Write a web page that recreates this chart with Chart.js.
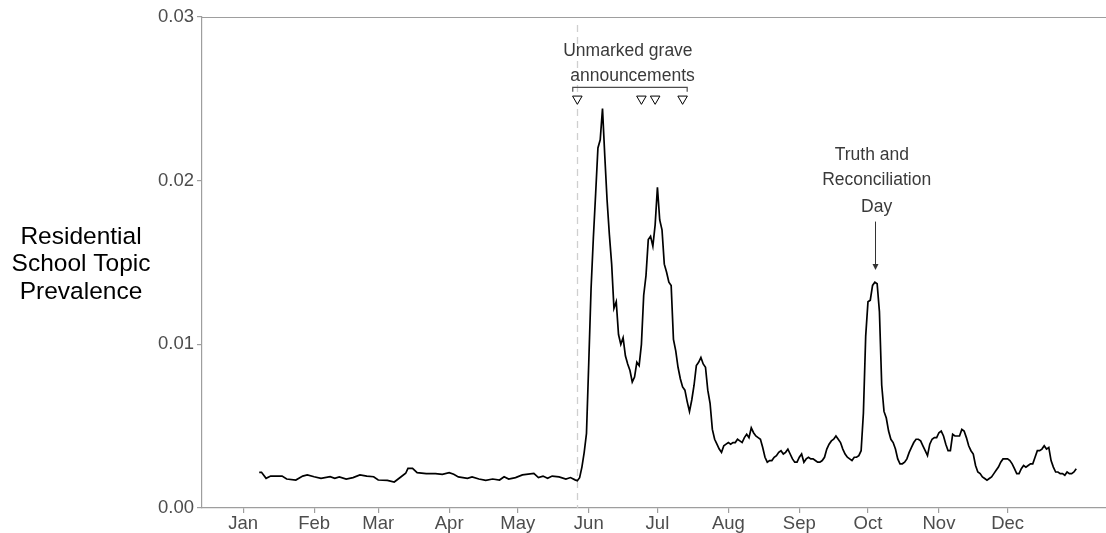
<!DOCTYPE html>
<html>
<head>
<meta charset="utf-8">
<script src="https://cdn.jsdelivr.net/npm/chart.js@4.4.0/dist/chart.umd.min.js"></script>
<style>
  html, body { margin: 0; padding: 0; background: #ffffff; }
  canvas { display: block; }
</style>
</head>
<body>
<canvas id="chart" width="1106" height="533"></canvas>
<script>
// Day of year (0 = 1 January 2021) and the residential-school topic prevalence on that day
const days = [
  7, 8, 10, 12, 17, 19, 23, 26, 28, 31, 34, 38, 40, 42, 45, 48, 51, 54, 57, 59,
  63, 66, 69, 71, 72, 74, 76, 80, 84, 87, 90, 92, 94, 98, 100, 103, 106, 109, 112, 114,
  116, 119, 122, 127, 129, 131, 133, 135, 138, 141, 143, 145,
  146, 147, 148, 149, 150, 151, 152, 153, 154, 155, 156, 157, 158, 159, 160, 161, 162, 163,
  164, 165, 166, 167, 168, 169, 170, 171, 172, 173, 174, 175, 176, 177, 178, 179, 180, 181,
  182, 183, 184, 185, 186, 187, 188, 189, 190, 191, 192, 193, 194, 195, 196, 197, 198, 199,
  200, 201, 202, 203, 204, 205, 206, 207, 208, 209, 210, 211, 212, 213, 214, 215, 216, 217,
  218, 219, 220, 221, 222, 223, 224, 225, 226, 227, 228, 229, 230, 231, 232, 233, 234, 235,
  236, 237, 238, 239, 240, 241, 242, 243, 244, 245, 246, 247, 248, 249, 250, 251, 252, 253,
  254, 255, 256, 257, 258, 259, 260, 261, 262, 263, 264, 265, 266, 267, 268, 269, 270, 271,
  272, 273, 274, 275, 276, 277, 278, 279, 280, 281, 282, 283, 284, 285, 286, 287, 288, 289,
  290, 291, 292, 293, 294, 295, 296, 297, 298, 299, 300, 301, 302, 303, 304, 305, 306, 307,
  308, 309, 310, 311, 312, 313, 314, 315, 316, 317, 318, 319, 320, 321, 322, 323, 324, 325,
  326, 327, 328, 329, 330, 331, 332, 333, 334, 335, 336, 337, 338, 339, 340, 341, 342, 343,
  344, 345, 346, 347, 348, 349, 350, 351, 352, 353, 354, 355, 356, 357, 358, 359, 360, 361,
  362, 363, 364
];
const prevalence = [
  0.00218, 0.00218, 0.00181, 0.00195, 0.00195, 0.00177, 0.00171, 0.00195, 0.00202, 0.00191,
  0.00181, 0.00191, 0.00181, 0.00190, 0.00177, 0.00186, 0.00202, 0.00195, 0.00191, 0.00171,
  0.00169, 0.00159, 0.00191, 0.00212, 0.00242, 0.00242, 0.00216, 0.00210, 0.00210, 0.00206,
  0.00216, 0.00206, 0.00190, 0.00181, 0.00190, 0.00177, 0.00169, 0.00177, 0.00171, 0.00191,
  0.00177, 0.00186, 0.00202, 0.00212, 0.00186, 0.00195, 0.00181, 0.00195, 0.00190, 0.00177,
  0.00186, 0.00172,
  0.00167, 0.00185, 0.00250, 0.00340, 0.00456, 0.00890, 0.01340, 0.01650, 0.01920, 0.02200,
  0.02250, 0.02440, 0.02150, 0.01880, 0.01670, 0.01490, 0.01220, 0.01260,
  0.01060, 0.01000, 0.01040, 0.00930, 0.00880, 0.00840, 0.00770, 0.00800, 0.00890, 0.00870,
  0.01000, 0.01300, 0.01420, 0.01640, 0.01660, 0.01600, 0.01730, 0.01960,
  0.01760, 0.01700, 0.01490, 0.01440, 0.01380, 0.01360, 0.01030, 0.00960, 0.00860, 0.00790,
  0.00740, 0.00720, 0.00650, 0.00590, 0.00660, 0.00750, 0.00870, 0.00890,
  0.00920, 0.00880, 0.00860, 0.00720, 0.00640, 0.00480, 0.00420, 0.00390, 0.00360, 0.00340,
  0.00380, 0.00390, 0.00400, 0.00390, 0.00400, 0.00400, 0.00420, 0.00410,
  0.00400, 0.00430, 0.00450, 0.00430, 0.00490, 0.00460, 0.00440, 0.00430, 0.00420, 0.00370,
  0.00310, 0.00280, 0.00290, 0.00290, 0.00310, 0.00320, 0.00340, 0.00350,
  0.00330, 0.00340, 0.00360, 0.00330, 0.00300, 0.00280, 0.00280, 0.00310, 0.00330, 0.00280,
  0.00300, 0.00310, 0.00300, 0.00300, 0.00290, 0.00280, 0.00280, 0.00290,
  0.00310, 0.00360, 0.00390, 0.00410, 0.00420, 0.00440, 0.00420, 0.00400, 0.00360, 0.00330,
  0.00310, 0.00300, 0.00290, 0.00310, 0.00310, 0.00320, 0.00350, 0.00580,
  0.01050, 0.01260, 0.01270, 0.01360, 0.01380, 0.01370, 0.01200, 0.00750, 0.00590, 0.00550,
  0.00470, 0.00420, 0.00400, 0.00360, 0.00300, 0.00270, 0.00270, 0.00280,
  0.00300, 0.00340, 0.00370, 0.00400, 0.00420, 0.00420, 0.00410, 0.00380, 0.00350, 0.00320,
  0.00390, 0.00420, 0.00430, 0.00430, 0.00460, 0.00470, 0.00440, 0.00390,
  0.00350, 0.00350, 0.00450, 0.00440, 0.00440, 0.00440, 0.00480, 0.00470, 0.00430, 0.00380,
  0.00350, 0.00330, 0.00260, 0.00220, 0.00210, 0.00190, 0.00180, 0.00170,
  0.00180, 0.00190, 0.00210, 0.00230, 0.00250, 0.00280, 0.00300, 0.00300, 0.00300, 0.00290,
  0.00270, 0.00240, 0.00210, 0.00210, 0.00240, 0.00260, 0.00250, 0.00260,
  0.00270, 0.00270, 0.00310, 0.00350, 0.00350, 0.00360, 0.00380, 0.00360, 0.00370, 0.00290,
  0.00250, 0.00220, 0.00220, 0.00210, 0.00210, 0.00200, 0.00220, 0.00210,
  0.00210, 0.00220, 0.00240
];

// Axis ticks: first day of each month
const monthStarts = [0, 31, 59, 90, 120, 151, 181, 212, 243, 273, 304, 334];
const monthLabels = ['Jan', 'Feb', 'Mar', 'Apr', 'May', 'Jun', 'Jul', 'Aug', 'Sep', 'Oct', 'Nov', 'Dec'];
const yTicks = [0, 0.01, 0.02, 0.03];

// Unmarked grave announcements (day of year) and the bracket spanning them
const announcementDays = [146, 174, 180, 192];
const markerLevel = 0.0250;
const bracketDays = [144, 194];
const bracketLevel = 0.0257;
const bracketTickLevel = 0.0255;
const firstAnnouncementDay = 146;

// National Day for Truth and Reconciliation arrow
const trcArrowDay = 276;
const trcArrowFrom = 0.0175;
const trcArrowTo = 0.01454;

const FONT = '"Liberation Sans", Arial, Helvetica, sans-serif';
const AXIS_GREY = '#9e9e9e';
const TEXT_GREY = '#4d4d4d';

const points = days.map((d, i) => ({ x: d, y: prevalence[i] }));
const markers = announcementDays.map(d => ({ x: d, y: markerLevel }));

const annotations = {
  id: 'annotations',
  beforeDatasetsDraw(chart) {
    const { ctx, chartArea, scales: { x } } = chart;
    const px = Math.round(x.getPixelForValue(firstAnnouncementDay)) + 0.5;
    ctx.save();
    ctx.strokeStyle = '#cfcfcf';
    ctx.lineWidth = 1.3;
    ctx.setLineDash([7, 5]);
    ctx.beginPath();
    ctx.moveTo(px, chartArea.top + 8);
    ctx.lineTo(px, chartArea.bottom);
    ctx.stroke();
    ctx.restore();
  },
  afterDraw(chart) {
    const { ctx, chartArea, scales: { x, y } } = chart;
    ctx.save();

    // top frame line
    ctx.strokeStyle = AXIS_GREY;
    ctx.lineWidth = 1.2;
    ctx.beginPath();
    ctx.moveTo(chartArea.left, chartArea.top + 0.5);
    ctx.lineTo(chartArea.right, chartArea.top + 0.5);
    ctx.stroke();

    // y-axis title, horizontal and centred
    ctx.fillStyle = '#000000';
    ctx.font = '24.5px ' + FONT;
    ctx.textAlign = 'center';
    ctx.textBaseline = 'middle';
    const titleX = 81;
    ['Residential', 'School Topic', 'Prevalence'].forEach((t, i) => {
      ctx.fillText(t, titleX, 237.5 + i * 27.2);
    });

    // bracket over the announcements
    ctx.strokeStyle = '#4d4d4d';
    ctx.lineWidth = 1.2;
    const bx0 = x.getPixelForValue(bracketDays[0]);
    const bx1 = x.getPixelForValue(bracketDays[1]);
    const by = y.getPixelForValue(bracketLevel);
    const byt = y.getPixelForValue(bracketTickLevel) + 1;
    ctx.beginPath();
    ctx.moveTo(bx0, byt);
    ctx.lineTo(bx0, by);
    ctx.lineTo(bx1, by);
    ctx.lineTo(bx1, byt);
    ctx.stroke();

    // annotation labels
    ctx.fillStyle = '#3a3a3a';
    ctx.font = '17.5px ' + FONT;
    ctx.textAlign = 'center';
    ctx.textBaseline = 'middle';
    ctx.fillText('Unmarked grave', x.getPixelForValue(168.1), y.getPixelForValue(0.02794));
    ctx.fillText('announcements', x.getPixelForValue(170.1), y.getPixelForValue(0.02641));
    ctx.fillText('Truth and', x.getPixelForValue(274.7), y.getPixelForValue(0.02157));
    ctx.fillText('Reconciliation', x.getPixelForValue(276.8), y.getPixelForValue(0.02000));
    ctx.fillText('Day', x.getPixelForValue(276.8), y.getPixelForValue(0.01841));

    // arrow down to the October peak
    const ax = Math.round(x.getPixelForValue(trcArrowDay)) + 0.5;
    const ay0 = y.getPixelForValue(trcArrowFrom);
    const ay1 = y.getPixelForValue(trcArrowTo);
    ctx.strokeStyle = '#333333';
    ctx.fillStyle = '#333333';
    ctx.lineWidth = 1;
    ctx.beginPath();
    ctx.moveTo(ax, ay0);
    ctx.lineTo(ax, ay1 - 5);
    ctx.stroke();
    ctx.beginPath();
    ctx.moveTo(ax - 3, ay1 - 6);
    ctx.lineTo(ax + 3, ay1 - 6);
    ctx.lineTo(ax, ay1);
    ctx.closePath();
    ctx.fill();

    ctx.restore();
  }
};

new Chart(document.getElementById('chart'), {
  type: 'line',
  data: {
    datasets: [
      {
        label: 'Prevalence',
        data: points,
        borderColor: '#000000',
        borderWidth: 1.7,
        pointRadius: 0,
        tension: 0,
        fill: false,
        order: 2
      },
      {
        label: 'Announcements',
        type: 'scatter',
        data: markers,
        showLine: false,
        pointStyle: 'triangle',
        rotation: 180,
        pointRadius: 5.5,
        pointBorderWidth: 1,
        pointBorderColor: '#000000',
        pointBackgroundColor: '#ffffff',
        order: 1
      }
    ]
  },
  options: {
    responsive: false,
    animation: false,
    layout: { autoPadding: false, padding: { top: 17, right: 0, bottom: 0, left: 0 } },
    plugins: {
      legend: { display: false },
      tooltip: { enabled: false }
    },
    scales: {
      x: {
        type: 'linear',
        min: -18,
        max: 377,
        afterBuildTicks(scale) {
          scale.ticks = monthStarts.map(v => ({ value: v }));
        },
        afterFit(scale) {
          scale.height = 25;
          scale.paddingLeft = 0;
          scale.paddingRight = 0;
        },
        ticks: {
          autoSkip: false,
          maxRotation: 0,
          padding: 0,
          color: TEXT_GREY,
          font: { family: FONT, size: 18.5 },
          callback(value) {
            const i = monthStarts.indexOf(value);
            return i >= 0 ? monthLabels[i] : '';
          }
        },
        grid: {
          drawOnChartArea: false,
          drawTicks: true,
          tickLength: 5,
          color: AXIS_GREY,
          lineWidth: 1.2
        },
        border: { display: true, color: AXIS_GREY, width: 1.2 }
      },
      y: {
        type: 'linear',
        min: 0,
        max: 0.03,
        afterBuildTicks(scale) {
          scale.ticks = yTicks.map(v => ({ value: v }));
        },
        afterFit(scale) {
          scale.width = 202;
          scale.paddingTop = 0;
          scale.paddingBottom = 0;
        },
        ticks: {
          padding: 3,
          color: TEXT_GREY,
          font: { family: FONT, size: 18.5 },
          callback(value) { return value.toFixed(2); }
        },
        grid: {
          drawOnChartArea: false,
          drawTicks: true,
          tickLength: 5,
          color: AXIS_GREY,
          lineWidth: 1.2
        },
        border: { display: true, color: AXIS_GREY, width: 1.2 }
      }
    }
  },
  plugins: [annotations]
});
</script>
</body>
</html>
